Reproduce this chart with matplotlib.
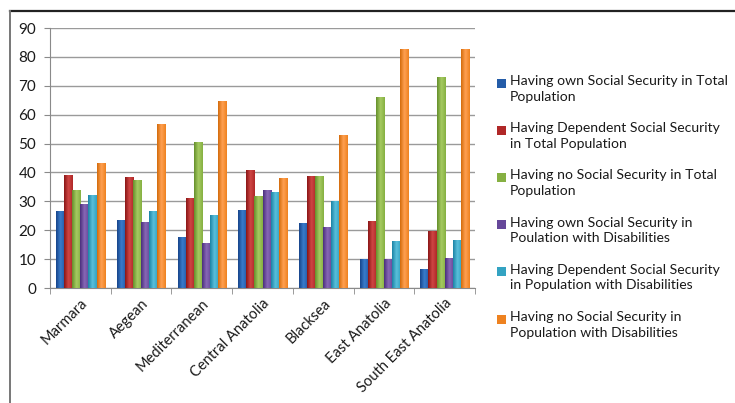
import numpy as np
import matplotlib.pyplot as plt
from matplotlib.colors import LinearSegmentedColormap
from matplotlib.patches import Rectangle
from matplotlib.lines import Line2D

plt.rcParams['font.family'] = ['Lato', 'DejaVu Sans']

regiones = ['Marmara', 'Aegean', 'Mediterranean', 'Central Anatolia',
            'Blacksea', 'East Anatolia', 'South East Anatolia']

own_total = [26.5, 23.5, 17.5, 27.0, 22.5, 10.0, 6.5]
dependent_total = [39.0, 38.3, 31.1, 40.9, 38.6, 23.2, 19.9]
no_total = [33.8, 37.5, 50.5, 31.8, 38.6, 66.2, 73.0]
own_disab = [29.0, 22.8, 15.6, 33.9, 21.0, 10.0, 10.3]
dependent_disab = [32.3, 26.5, 25.1, 33.1, 30.2, 16.4, 16.6]
no_disab = [43.4, 56.6, 64.8, 38.0, 53.0, 82.8, 82.8]

etiquetas = [
    'Having own Social Security in Total\nPopulation',
    'Having Dependent Social Security\nin Total Population',
    'Having no Social Security in Total\nPopulation',
    'Having own Social Security in\nPoulation with Disabilities',
    'Having Dependent Social Security\nin Population with Disabilities',
    'Having no Social Security in\nPopulation with Disabilities',
]

# (oscuro, claro, base) para el degradado horizontal de cada serie
colores = [
    ('#17448a', '#3a7ccc', '#245ca8'),
    ('#8a1616', '#cf4644', '#b02828'),
    ('#66902c', '#a6cb62', '#86b042'),
    ('#4a2f7c', '#8868b6', '#66489a'),
    ('#1c84a6', '#5abfdb', '#33a3c2'),
    ('#d46c0c', '#ffa052', '#ee8220'),
]

series = [own_total, dependent_total, no_total, own_disab, dependent_disab, no_disab]

W, H = 735, 403
fig = plt.figure(figsize=(W / 100, H / 100), dpi=100)
ax = fig.add_axes([50 / W, 1 - 288 / H, 425 / W, 260 / H])

n_series = len(series)
ancho = 1.0 / (n_series + 1.5)
x = np.arange(len(regiones))

for i, valores in enumerate(series):
    oscuro, claro, base = colores[i]
    cmap = LinearSegmentedColormap.from_list('g%d' % i, [oscuro, claro, base])
    grad = np.linspace(0, 1, 32).reshape(1, -1)
    offset = (i - (n_series - 1) / 2) * ancho
    barras = ax.bar(x + offset, valores, width=ancho, color=base, zorder=2)
    for b in barras:
        x0 = b.get_x()
        h = b.get_height()
        img = ax.imshow(grad, cmap=cmap, aspect='auto', zorder=3,
                        extent=[x0, x0 + ancho, 0, h], interpolation='bilinear')
        img.set_clip_path(b)

ax.set_xlim(-0.5, len(regiones) - 0.5)
ax.set_ylim(0, 90)
ax.set_yticks(range(0, 91, 10))
ax.yaxis.grid(True, color='#9a9a9a', linewidth=1.0, zorder=0)
ax.set_axisbelow(True)

ax.set_xticks(x)
ax.set_xticklabels(regiones, rotation=45, ha='right', rotation_mode='anchor',
                   fontsize=10.5, color='#1a1a1a')
ax.tick_params(axis='x', length=0, pad=6)
ax.set_xticks(np.arange(-0.5, len(regiones), 1), minor=True)
ax.tick_params(axis='x', which='minor', length=4, color='#8a8a8a')
ax.tick_params(axis='y', length=4, color='#8a8a8a', labelsize=11, pad=6,
               labelcolor='#1a1a1a')

for lado in ['top', 'right']:
    ax.spines[lado].set_visible(False)
for lado in ['left', 'bottom']:
    ax.spines[lado].set_color('#8a8a8a')

# marco exterior del gráfico
fig.add_artist(Line2D([9.5 / W, 1.0], [1 - 10.5 / H] * 2, color='#222222', linewidth=1.6))
fig.add_artist(Line2D([9.5 / W] * 2, [0, 1 - 10.5 / H], color='#777777', linewidth=1.4))

# leyenda a la derecha, cuadro alineado con la primera línea de cada texto
for i, texto in enumerate(etiquetas):
    yc = 83 + 47.2 * i
    fig.add_artist(Rectangle((497 / W, 1 - (yc + 4.5) / H), 9 / W, 9 / H,
                             facecolor=colores[i][2], edgecolor='none',
                             transform=fig.transFigure))
    fig.text(510 / W, 1 - (yc - 8) / H, texto, fontsize=10.1, va='top', ha='left',
             linespacing=1.36, color='#1a1a1a')

fig.savefig('out.png', dpi=100)
plt.close(fig)
